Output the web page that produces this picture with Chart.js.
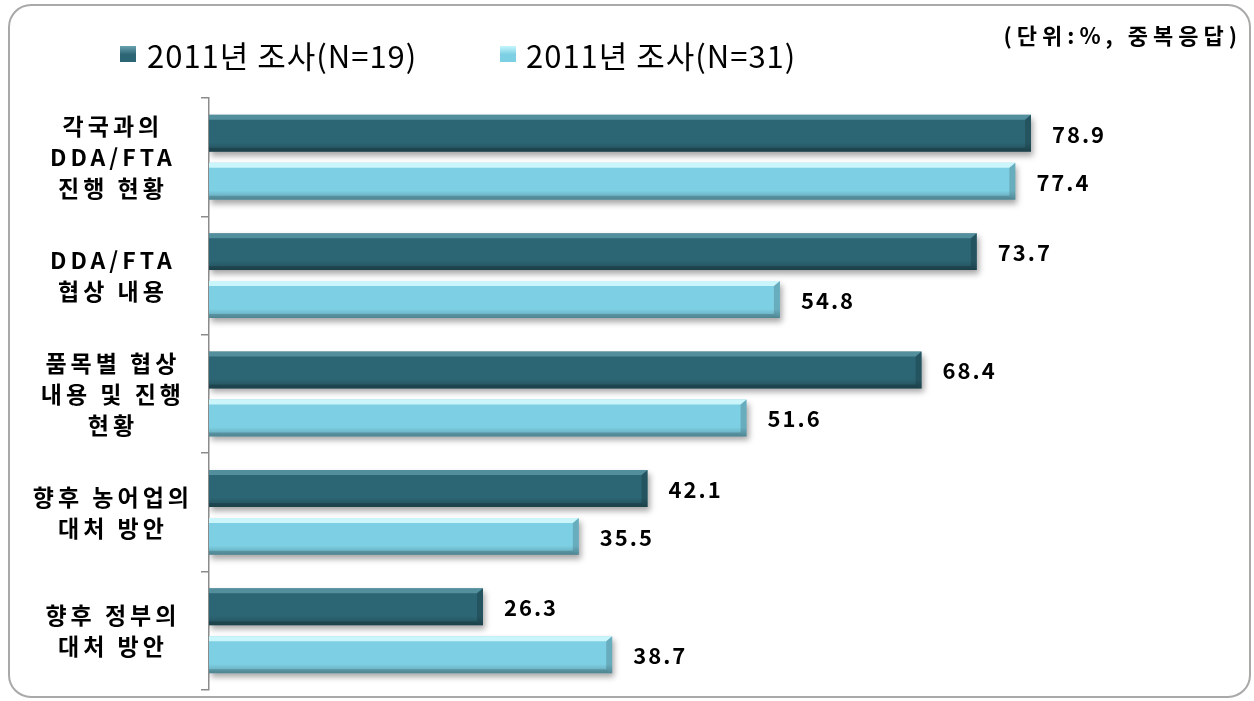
<!DOCTYPE html>
<html>
<head>
<meta charset="utf-8">
<script src="https://cdn.jsdelivr.net/npm/chart.js@4.4.1/dist/chart.umd.min.js"></script>
<style>
  html, body { margin: 0; padding: 0; background: #fff; }
  canvas { display: block; }
</style>
</head>
<body>
<canvas id="chart" width="1254" height="701"></canvas>
<script>
// categories (multi-line labels, as wrapped in the source)
const categories = [
  ['각국과의', 'DDA/FTA', '진행 현황'],
  ['DDA/FTA', '협상 내용'],
  ['품목별 협상', '내용 및 진행', '현황'],
  ['향후 농어업의', '대처 방안'],
  ['향후 정부의', '대처 방안']
];
const seriesNames = ['2011년 조사(N=19)', '2011년 조사(N=31)'];
const survey19 = [78.9, 73.7, 68.4, 42.1, 26.3];
const survey31 = [77.4, 54.8, 51.6, 35.5, 38.7];
const unitNote = '(단위:%, 중복응답)';

const KR = '"Noto Sans CJK KR", "Noto Sans", sans-serif';
const bodyColors = ['#2c6573', '#7dcfe3'];
const topColors = ['rgba(110,170,185,0.6)', 'rgba(215,252,255,0.85)'];

// rounded frame, legend, unit note, bar shading and value labels
const frame = {
  id: 'frame',
  beforeDraw(chart) {
    const ctx = chart.ctx;
    ctx.save();
    ctx.strokeStyle = '#a9a9a9';
    ctx.lineWidth = 2;
    ctx.beginPath();
    ctx.roundRect(9, 5, 1241, 692, 22);
    ctx.stroke();

    // legend
    const marks = [{ x: 120, tx: 147 }, { x: 500, tx: 526 }];
    ctx.textBaseline = 'middle';
    ctx.letterSpacing = '1px';
    ctx.font = '31px ' + KR;
    chart.data.datasets.forEach((ds, i) => {
      const m = marks[i];
      const g = ctx.createLinearGradient(0, 46, 0, 63);
      g.addColorStop(0, i ? '#c4f6fd' : '#6aa2b0');
      g.addColorStop(0.5, bodyColors[i]);
      g.addColorStop(1, bodyColors[i]);
      ctx.fillStyle = g;
      ctx.fillRect(m.x, 46, 16, 16);
      ctx.fillStyle = '#000';
      ctx.textAlign = 'left';
      ctx.fillText(ds.label, m.tx, 56);
    });

    // unit note
    ctx.letterSpacing = '5px';
    ctx.font = 'bold 22px ' + KR;
    ctx.textAlign = 'right';
    ctx.fillText(unitNote, 1242, 36);
    ctx.restore();

    // spacing for the category tick labels (drawn before the bars)
    ctx.letterSpacing = '4px';
  },
  beforeDatasetsDraw(chart) {
    const ctx = chart.ctx;
    ctx.letterSpacing = '0px';
    ctx.save();
    ctx.shadowColor = 'rgba(0,0,0,0.35)';
    ctx.shadowBlur = 6;
    ctx.shadowOffsetX = 2;
    ctx.shadowOffsetY = 4;
  },
  afterDatasetsDraw(chart) {
    const ctx = chart.ctx;
    ctx.restore();
    ctx.save();
    chart.data.datasets.forEach((ds, di) => {
      const meta = chart.getDatasetMeta(di);
      meta.data.forEach((bar, i) => {
        const p = bar.getProps(['x', 'y', 'base', 'height'], true);
        const top = p.y - p.height / 2, bot = p.y + p.height / 2;
        const left = Math.min(p.base, p.x), right = Math.max(p.base, p.x);
        const b = 6;

        // body shading
        const g = ctx.createLinearGradient(0, top, 0, bot);
        g.addColorStop(0, 'rgba(255,255,255,0)');
        g.addColorStop(0.75, 'rgba(0,0,0,0)');
        g.addColorStop(1, 'rgba(0,0,0,0.22)');
        ctx.fillStyle = g;
        ctx.fillRect(left, top, right - left, p.height);

        // top bevel
        ctx.fillStyle = topColors[di];
        ctx.beginPath();
        ctx.moveTo(left, top);
        ctx.lineTo(right, top);
        ctx.lineTo(right - b, top + 5);
        ctx.lineTo(left, top + 5);
        ctx.closePath();
        ctx.fill();

        // bottom bevel
        ctx.fillStyle = 'rgba(0,0,0,0.18)';
        ctx.beginPath();
        ctx.moveTo(left, bot);
        ctx.lineTo(right, bot);
        ctx.lineTo(right - b, bot - 4);
        ctx.lineTo(left, bot - 4);
        ctx.closePath();
        ctx.fill();

        // right bevel
        ctx.fillStyle = 'rgba(0,0,0,0.16)';
        ctx.beginPath();
        ctx.moveTo(right - b, top + 5);
        ctx.lineTo(right, top);
        ctx.lineTo(right, bot);
        ctx.lineTo(right - b, bot - 4);
        ctx.closePath();
        ctx.fill();

        // value label
        ctx.letterSpacing = '2px';
        ctx.font = 'bold 22px ' + KR;
        ctx.fillStyle = '#000';
        ctx.textAlign = 'left';
        ctx.textBaseline = 'middle';
        ctx.fillText(ds.data[i].toFixed(1), right + 21, p.y + 1);
      });
    });
    ctx.restore();
  }
};

new Chart(document.getElementById('chart'), {
  type: 'bar',
  data: {
    labels: categories,
    datasets: [
      { label: seriesNames[0], data: survey19, backgroundColor: bodyColors[0] },
      { label: seriesNames[1], data: survey31, backgroundColor: bodyColors[1] }
    ]
  },
  options: {
    indexAxis: 'y',
    responsive: false,
    animation: false,
    categoryPercentage: 0.81,
    barPercentage: 0.77,
    layout: { padding: { left: 10, right: 24, top: 98, bottom: 11 } },
    plugins: { legend: { display: false }, tooltip: { enabled: false } },
    scales: {
      x: { display: false, min: 0, max: 98 },
      y: {
        afterFit(scale) {
          scale.width = 199;
          scale.paddingTop = 0;
          scale.paddingBottom = 0;
        },
        border: { display: true, color: '#8c8c8c', width: 1.5 },
        grid: { display: true, drawOnChartArea: false, tickLength: 8, color: '#8c8c8c', lineWidth: 1.5 },
        ticks: {
          crossAlign: 'center',
          padding: 22,
          color: '#000',
          font: { family: KR, size: 23, weight: 'bold', lineHeight: 1.35 }
        }
      }
    }
  },
  plugins: [frame]
});
</script>
</body>
</html>
